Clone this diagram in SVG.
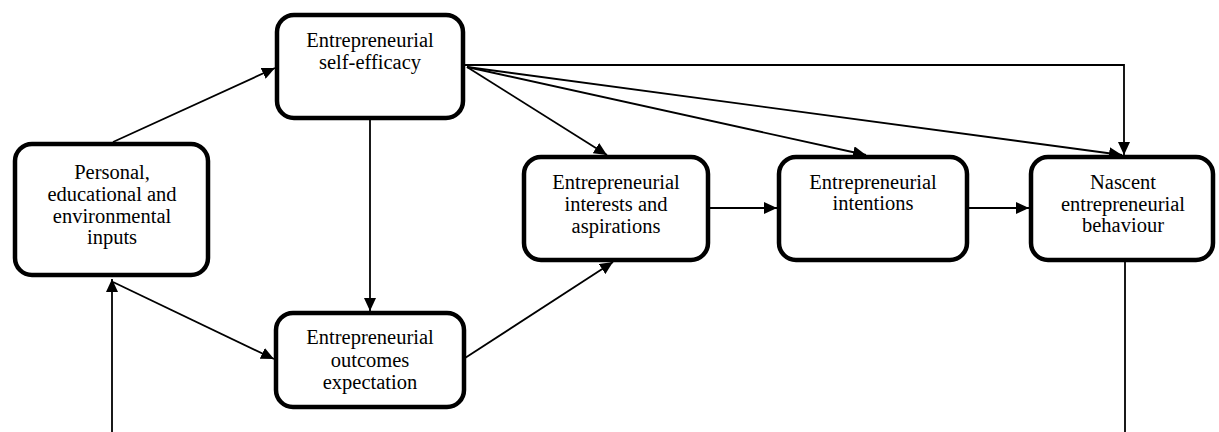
<svg xmlns="http://www.w3.org/2000/svg" width="1219" height="432" viewBox="0 0 1219 432">
<style>
.box{fill:#fff;stroke:#000;stroke-width:4.5}
.t{font-family:'Liberation Serif','Times New Roman',Times,'DejaVu Serif',serif;font-size:20.5px;fill:#000;text-anchor:middle}
.c{fill:none;stroke:#000;stroke-width:1.8}
.a{marker-end:url(#ah)}
</style>
<defs>
<marker id="ah" markerUnits="userSpaceOnUse" markerWidth="14" markerHeight="12" refX="13" refY="6" orient="auto">
<path d="M0,0 L13,6 L0,12 z" fill="#000"/>
</marker>
</defs>
<rect width="1219" height="432" fill="#fff"/>
<g id="connectors">
<line class="c a" x1="113" y1="142" x2="275" y2="68"/>
<line class="c a" x1="112" y1="432" x2="112" y2="279"/>
<line class="c a" x1="113" y1="282" x2="274" y2="359"/>
<line class="c a" x1="370" y1="120" x2="370" y2="311"/>
<line class="c a" x1="465" y1="358" x2="613" y2="262"/>
<line class="c a" x1="467" y1="67" x2="607" y2="155"/>
<line class="c a" x1="467" y1="67" x2="866" y2="155"/>
<line class="c a" x1="467" y1="67" x2="1122" y2="155"/>
<polyline class="c a" points="465,65 1124,65 1124,155"/>
<line class="c a" x1="710" y1="208" x2="777" y2="208"/>
<line class="c a" x1="969" y1="208" x2="1029" y2="208"/>
<line class="c" x1="1125" y1="262" x2="1125" y2="432"/>
</g>
<g id="n-inputs">
<rect class="box" x="15" y="144" width="193" height="131" rx="17"/>
<text class="t" x="112" y="179" font-family="Liberation Serif, serif">Personal,</text>
<text class="t" x="112" y="201">educational and</text>
<text class="t" x="112" y="223">environmental</text>
<text class="t" x="112" y="244">inputs</text>
</g>
<g id="n-selfefficacy">
<rect class="box" x="277" y="15" width="186" height="103" rx="17"/>
<text class="t" x="370" y="47">Entrepreneurial</text>
<text class="t" x="370" y="69">self-efficacy</text>
</g>
<g id="n-outcomes">
<rect class="box" x="276" y="313" width="188" height="94" rx="17"/>
<text class="t" x="370" y="344">Entrepreneurial</text>
<text class="t" x="370" y="367">outcomes</text>
<text class="t" x="370" y="389">expectation</text>
</g>
<g id="n-interests">
<rect class="box" x="524" y="157" width="184" height="103" rx="17"/>
<text class="t" x="616" y="189">Entrepreneurial</text>
<text class="t" x="616" y="211">interests and</text>
<text class="t" x="616" y="233">aspirations</text>
</g>
<g id="n-intentions">
<rect class="box" x="779" y="157" width="188" height="103" rx="17"/>
<text class="t" x="873" y="189">Entrepreneurial</text>
<text class="t" x="873" y="210">intentions</text>
</g>
<g id="n-nascent">
<rect class="box" x="1031" y="157" width="182" height="103" rx="17"/>
<text class="t" x="1123" y="189">Nascent</text>
<text class="t" x="1123" y="211">entrepreneurial</text>
<text class="t" x="1123" y="232">behaviour</text>
</g>
</svg>
